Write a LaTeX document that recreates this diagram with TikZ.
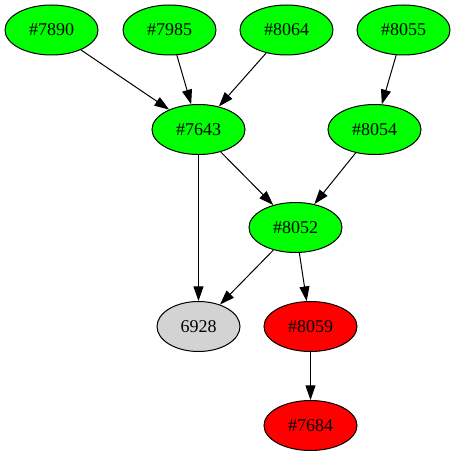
\documentclass[tikz,border=0pt]{standalone}
\usepackage{fontspec}
\setmainfont{Liberation Serif}
\usetikzlibrary{shapes.geometric,arrows.meta}
\definecolor{ltgray}{RGB}{211,211,211}
\begin{document}
\begin{tikzpicture}[x=0.75pt, y=-0.75pt, font=\fontsize{13.5}{16}\selectfont,
    nd/.style={draw, shape=ellipse, inner sep=0pt, minimum width=69.75pt, minimum height=37.5pt, line width=0.75pt},
    pass/.style={nd, fill=green}, fail/.style={nd, fill=red}, other/.style={nd, fill=ltgray, minimum width=62.25pt},
    dep/.style={-{Triangle[length=11pt,width=7.5pt]}, line width=0.75pt}]
    \useasboundingbox (0,0) rectangle (456,456);

    \node[pass] (n7890) at (51.5,30) {\#7890};\node[pass] (n7985) at (169.5,30) {\#7985};
    \node[pass] (n8064) at (286.5,30) {\#8064};\node[pass] (n8055) at (403.5,30) {\#8055};
    \node[pass] (n7643) at (198.5,129.5) {\#7643};\node[pass] (n8054) at (374.5,129.5) {\#8054};
    \node[pass] (n8052) at (295.5,227.5) {\#8052};
    \node[other] (n6928) at (198.5,326.5) {6928};\node[fail] (n8059) at (310.5,326.5) {\#8059};
    \node[fail] (n7684) at (310.5,425.5) {\#7684};

    \draw[dep] (n7890) -- (n7643);\draw[dep] (n7985) -- (n7643);\draw[dep] (n8064) -- (n7643);
    \draw[dep] (n8055) -- (n8054);
    \draw[dep] (n7643) -- (n8052);\draw[dep] (n8054) -- (n8052);
    \draw[dep] (n7643) -- (n6928);\draw[dep] (n8052) -- (n6928);\draw[dep] (n8052) -- (n8059);
    \draw[dep] (n8059) -- (n7684);
\end{tikzpicture}
\end{document}
